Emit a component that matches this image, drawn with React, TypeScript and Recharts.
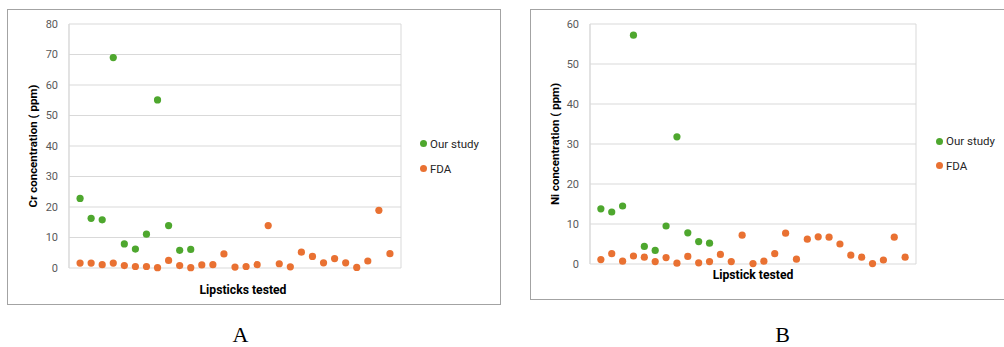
import React from 'react';
import { ScatterChart, Scatter, XAxis, YAxis, CartesianGrid, Legend } from 'recharts';

// Panel A — Cr
const crOurStudy = [22.8, 16.3, 15.8, 69.0, 7.9, 6.2, 11.1, 55.1, 13.9, 5.8, 6.1];
const crFda = [1.6, 1.6, 1.1, 1.6, 0.8, 0.5, 0.5, 0.1, 2.5, 0.8, 0.1, 1.0, 1.1, 4.6, 0.3, 0.5, 1.1, 13.9, 1.4, 0.4, 5.2, 3.8, 1.7, 3.1, 1.7, 0.2, 2.3, 18.9, 4.7];
// Panel B — Ni
const niOurStudy = [13.8, 13.0, 14.5, 57.2, 4.4, 3.4, 9.5, 31.8, 7.8, 5.6, 5.2];
const niFda = [1.1, 2.6, 0.7, 2.0, 1.7, 0.6, 1.6, 0.2, 1.9, 0.3, 0.6, 2.4, 0.6, 7.2, 0.1, 0.7, 2.6, 7.7, 1.2, 6.2, 6.8, 6.7, 5.0, 2.2, 1.7, 0.1, 1.0, 6.7, 1.7];

const xTicks = [0, 5, 10, 15, 20, 25, 30];
const crTicks = [0, 10, 20, 30, 40, 50, 60, 70, 80];
const niTicks = [0, 10, 20, 30, 40, 50, 60];

const seriesNames = ['Our study', 'FDA'];
const GREEN = '#4ea72e';
const ORANGE = '#e97132';
const FONT = 'Roboto, "Noto Sans", sans-serif';

const toPoints = (vals: number[]) => vals.map((v, i) => ({ x: i + 1, y: v }));

const dot = (color: string) => (p: any) => <circle cx={p.cx} cy={p.cy} r={3.6} fill={color} />;

const makeLegend = (rowGap: number) => (props: any) => {
  const items = [...(props.payload || [])].sort(
    (a: any, b: any) => seriesNames.indexOf(a.value) - seriesNames.indexOf(b.value)
  );
  return (
    <div style={{ fontFamily: FONT, fontSize: 11.5, color: '#262626' }}>
      {items.map((e: any, i: number) => (
        <div key={i} style={{ display: 'flex', alignItems: 'center', height: rowGap }}>
          <span style={{ display: 'inline-block', width: 7, height: 7, borderRadius: 4, background: e.color, marginRight: 3 }} />
          <span>{e.value}</span>
        </div>
      ))}
    </div>
  );
};

type PanelProps = {
  left: number; top: number; width: number; height: number;
  margin: { top: number; right: number; bottom: number; left: number };
  yWidth: number; yMax: number; yTicks: number[];
  ours: number[]; fda: number[];
  yTitle: string; xTitle: string;
  yTitleX: number; xTitleX: number; xTitleY: number;
  legendLeft: number; legendTop: number; legendGap: number;
};

function Panel(p: PanelProps) {
  const plotCy = p.margin.top + (p.height - p.margin.top - p.margin.bottom) / 2;
  return (
    <div style={{ position: 'absolute', left: p.left, top: p.top, width: p.width, height: p.height }}>
      <ScatterChart width={p.width} height={p.height} margin={p.margin}>
        <CartesianGrid stroke="#d9d9d9" strokeWidth={1} />
        <XAxis type="number" dataKey="x" domain={[0, 30]} ticks={xTicks} tick={false} tickLine={false} axisLine={{ stroke: '#d9d9d9' }} height={0} />
        <YAxis type="number" dataKey="y" domain={[0, p.yMax]} ticks={p.yTicks} tickLine={false} axisLine={{ stroke: '#d9d9d9' }} width={p.yWidth} tickMargin={5} interval={0}
          tick={{ fill: '#595959', fontSize: 11, fontFamily: FONT }} />
        <Legend verticalAlign="middle" align="center" layout="vertical" content={makeLegend(p.legendGap)}
          wrapperStyle={{ left: p.legendLeft, top: p.legendTop, width: 90, height: 2 * p.legendGap }} />
        <Scatter name={seriesNames[0]} data={toPoints(p.ours)} fill={GREEN} shape={dot(GREEN)} isAnimationActive={false} />
        <Scatter name={seriesNames[1]} data={toPoints(p.fda)} fill={ORANGE} shape={dot(ORANGE)} isAnimationActive={false} />
        <text x={p.yTitleX} y={plotCy} transform={`rotate(-90 ${p.yTitleX} ${plotCy})`} textAnchor="middle" dominantBaseline="central"
          style={{ fontFamily: FONT, fontSize: 11.5, fontWeight: 700, fill: '#000' }}>{p.yTitle}</text>
        <text x={p.xTitleX} y={p.xTitleY} textAnchor="middle" dominantBaseline="central"
          style={{ fontFamily: FONT, fontSize: 12.2, fontWeight: 700, fill: '#000' }}>{p.xTitle}</text>
      </ScatterChart>
      <div style={{ position: 'absolute', left: 0, top: 0, width: p.width, height: p.height, boxSizing: 'border-box', border: '1px solid #a3a3a3', pointerEvents: 'none' }} />
    </div>
  );
}

export default function App() {
  return (
    <div style={{ position: 'absolute', left: 0, top: 0, width: 1004, height: 347, overflow: 'hidden', background: '#fff' }}>
      <Panel left={7} top={9} width={494} height={296}
        margin={{ top: 15, right: 100, bottom: 37, left: 0 }} yWidth={62} yMax={80} yTicks={crTicks}
        ours={crOurStudy} fda={crFda}
        yTitle="Cr concentration ( ppm)" xTitle="Lipsticks tested"
        yTitleX={26} xTitleX={236} xTitleY={281}
        legendLeft={413} legendTop={122} legendGap={25} />
      <Panel left={530} top={9} width={476} height={291}
        margin={{ top: 15, right: 90, bottom: 36, left: 0 }} yWidth={60} yMax={60} yTicks={niTicks}
        ours={niOurStudy} fda={niFda}
        yTitle="Ni concentration ( ppm)" xTitle="Lipstick tested"
        yTitleX={25} xTitleX={223} xTitleY={266}
        legendLeft={406} legendTop={120} legendGap={24.5} />
      <div style={{ position: 'absolute', left: 200, top: 322, width: 81, textAlign: 'center', fontFamily: '"Liberation Serif", "Times New Roman", serif', fontSize: 22 }}>A</div>
      <div style={{ position: 'absolute', left: 742, top: 322, width: 81, textAlign: 'center', fontFamily: '"Liberation Serif", "Times New Roman", serif', fontSize: 22 }}>B</div>
    </div>
  );
}
